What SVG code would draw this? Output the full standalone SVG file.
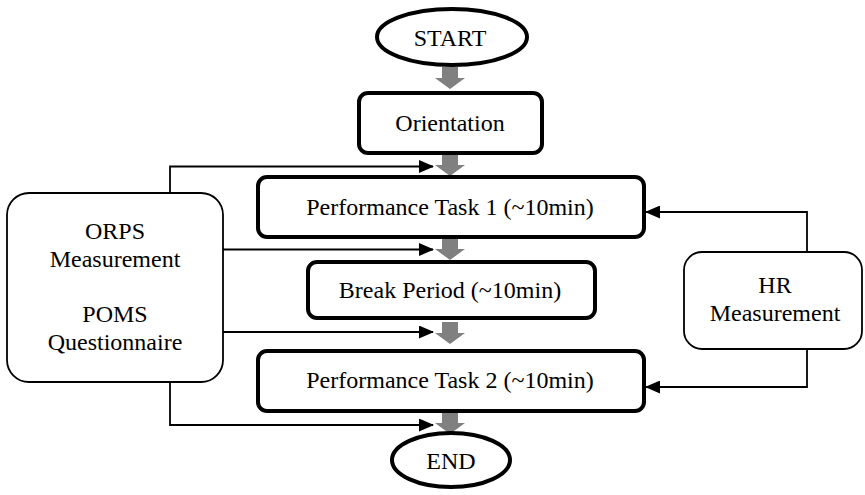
<svg xmlns="http://www.w3.org/2000/svg" width="865" height="495" viewBox="0 0 865 495">
<style>
.main{fill:#fff;stroke:#000;stroke-width:4}
.side{fill:#fff;stroke:#000;stroke-width:1.8}
.conn{fill:none;stroke:#000;stroke-width:1.8}
.gray{fill:#808080}
</style>
<defs>
<marker id="ah" markerWidth="15" markerHeight="13" refX="14" refY="6.5" orient="auto" markerUnits="userSpaceOnUse">
<path d="M0,0 L15,6.5 L0,13 Z" fill="#000"/>
</marker>
<path id="garrow" d="M-8,0 H8 V11 H15 L0,22 L-15,11 H-8 Z"/>
</defs>
<rect width="865" height="495" fill="#fff"/>
<g id="connectors">
<path class="conn" d="M170,193 V166.5 H433" marker-end="url(#ah)"/>
<path class="conn" d="M223,249.5 H433" marker-end="url(#ah)"/>
<path class="conn" d="M223,332 H433" marker-end="url(#ah)"/>
<path class="conn" d="M170,382 V425 H433" marker-end="url(#ah)"/>
<path class="conn" d="M807,252 V212 H646" marker-end="url(#ah)"/>
<path class="conn" d="M807,349 V387 H646" marker-end="url(#ah)"/>
<use href="#garrow" class="gray" x="450" y="67"/>
<use href="#garrow" class="gray" x="450" y="154"/>
<use href="#garrow" class="gray" x="450" y="238"/>
<use href="#garrow" class="gray" x="450" y="322"/>
<use href="#garrow" class="gray" x="450" y="412"/>
</g>
<g font-family="Liberation Serif" font-size="24" text-anchor="middle" fill="#000">
<g id="start">
<ellipse class="main" cx="452" cy="37" rx="75" ry="28"/>
<text x="450" y="46" font-family="Liberation Serif">START</text>
</g>
<g id="orientation">
<rect class="main" x="359" y="93" width="183" height="60" rx="9"/>
<text x="450" y="131" font-family="Liberation Serif">Orientation</text>
</g>
<g id="task1">
<rect class="main" x="258" y="177" width="386" height="60" rx="9"/>
<text x="450" y="215" font-family="Liberation Serif">Performance Task 1 (~10min)</text>
</g>
<g id="break">
<rect class="main" x="308" y="262" width="287" height="56" rx="9"/>
<text x="450" y="298" font-family="Liberation Serif">Break Period (~10min)</text>
</g>
<g id="task2">
<rect class="main" x="258" y="351" width="386" height="60" rx="9"/>
<text x="450" y="388" font-family="Liberation Serif">Performance Task 2 (~10min)</text>
</g>
<g id="end">
<ellipse class="main" cx="451" cy="460" rx="59" ry="27"/>
<text x="451" y="469" font-family="Liberation Serif">END</text>
</g>
<g id="orps">
<rect class="side" x="7" y="193" width="216" height="189" rx="22"/>
<text x="115" y="239" font-family="Liberation Serif">ORPS</text>
<text x="115" y="267" font-family="Liberation Serif">Measurement</text>
<text x="115" y="322" font-family="Liberation Serif">POMS</text>
<text x="115" y="350" font-family="Liberation Serif">Questionnaire</text>
</g>
<g id="hr">
<rect class="side" x="684" y="252" width="178" height="97" rx="18"/>
<text x="775" y="293" font-family="Liberation Serif">HR</text>
<text x="775" y="321" font-family="Liberation Serif">Measurement</text>
</g>
</g>
</svg>
